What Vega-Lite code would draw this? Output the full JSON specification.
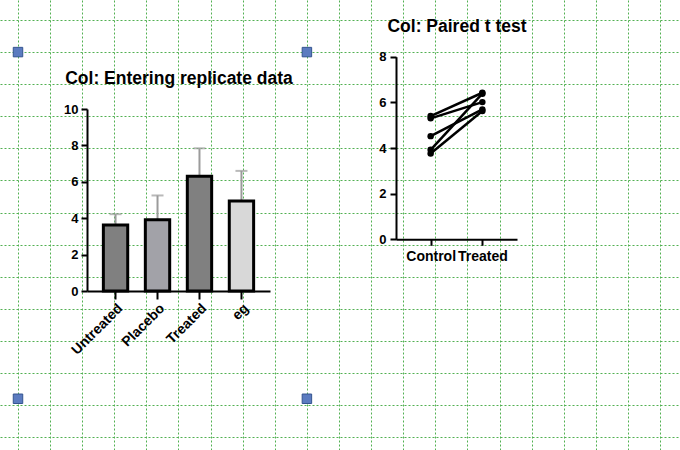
{
  "$schema": "https://vega.github.io/schema/vega-lite/v6.json",
  "width": 680,
  "height": 450,
  "padding": 0,
  "autosize": {"type": "none"},
  "background": "white",
  "config": {
    "view": {"stroke": null},
    "font": "Liberation Sans",
    "axis": {
      "labelFont": "Liberation Sans",
      "titleFont": "Liberation Sans",
      "labelColor": "black",
      "titleColor": "black",
      "domainColor": "black",
      "tickColor": "black",
      "labelFontWeight": "bold",
      "titleFontWeight": "bold"
    }
  },
  "datasets": {
    "handles": [
      {"u": 0, "v": 1},
      {"u": 9, "v": 1},
      {"u": 0, "v": 11.8},
      {"u": 9, "v": 11.8}
    ],
    "groups": [
      {"group": "Untreated", "mean": 3.63, "upper": 4.22},
      {"group": "Placebo", "mean": 3.91, "upper": 5.25},
      {"group": "Treated", "mean": 6.30, "upper": 7.84},
      {"group": "eg", "mean": 4.95, "upper": 6.60}
    ],
    "pairs": [
      {"pair": 1, "condition": "Control", "value": 5.40},
      {"pair": 1, "condition": "Treated", "value": 6.42},
      {"pair": 2, "condition": "Control", "value": 5.30},
      {"pair": 2, "condition": "Treated", "value": 6.01},
      {"pair": 3, "condition": "Control", "value": 4.52},
      {"pair": 3, "condition": "Treated", "value": 5.69},
      {"pair": 4, "condition": "Control", "value": 3.92},
      {"pair": 4, "condition": "Treated", "value": 6.38},
      {"pair": 5, "condition": "Control", "value": 3.76},
      {"pair": 5, "condition": "Treated", "value": 5.62}
    ]
  },
  "layer": [
    {
      "data": {"name": "handles"},
      "mark": {"type": "square", "size": 90, "opacity": 1, "fill": "#5b7bc0", "stroke": "#34548f", "strokeWidth": 1},
      "encoding": {
        "x": {
          "field": "u", "type": "quantitative",
          "scale": {"domain": [-0.5607, 20.623], "nice": false, "zero": false},
          "axis": {
            "orient": "bottom", "values": [0,1,2,3,4,5,6,7,8,9,10,11,12,13,14,15,16,17,18,19,20],
            "grid": true, "gridColor": "#52b052", "gridDash": [2, 2], "gridWidth": 1,
            "domain": false, "ticks": false, "labels": false, "title": null
          }
        },
        "y": {
          "field": "v", "type": "quantitative",
          "scale": {"domain": [-0.623, 13.396], "nice": false, "zero": false, "reverse": true},
          "axis": {
            "orient": "left", "values": [0,1,2,3,4,5,6,7,8,9,10,11,12,13],
            "grid": true, "gridColor": "#52b052", "gridDash": [2, 2], "gridWidth": 1,
            "domain": false, "ticks": false, "labels": false, "title": null
          }
        }
      }
    },
    {
      "data": {"name": "groups"},
      "layer": [
        {
          "mark": {"type": "rule", "color": "#9b9b9b", "strokeWidth": 2},
          "encoding": {
            "x": {
              "field": "group", "type": "nominal", "sort": null,
              "scale": {"range": [87, 270], "paddingInner": 0.42, "paddingOuter": 0.39},
              "axis": {
                "orient": "top", "offset": -87, "title": "Col: Entering replicate data",
                "titleFontSize": 17.5, "titlePadding": 0, "minExtent": 0, "maxExtent": 0,
                "domain": false, "ticks": false, "labels": false, "grid": false
              }
            },
            "y": {
              "field": "mean", "type": "quantitative",
              "scale": {"domain": [0, 10], "range": [291, 109], "nice": false},
              "axis": {
                "orient": "left", "offset": -87, "title": null, "zindex": 1,
                "values": [0, 2, 4, 6, 8, 10], "labelFontSize": 13, "labelPadding": 3,
                "tickSize": 6, "tickWidth": 2, "domainWidth": 2, "grid": false
              }
            },
            "y2": {"field": "upper"}
          }
        },
        {
          "mark": {"type": "tick", "color": "#9b9b9b", "size": 12, "thickness": 2},
          "encoding": {
            "x": {"field": "group", "type": "nominal", "sort": null, "axis": null},
            "y": {"field": "upper", "type": "quantitative", "axis": null}
          }
        },
        {
          "mark": {"type": "bar", "stroke": "black", "strokeWidth": 3},
          "encoding": {
            "x": {
              "field": "group", "type": "nominal", "sort": null,
              "axis": {
                "orient": "bottom", "offset": -159, "title": null, "zindex": 1,
                "labelAngle": -45, "labelFontSize": 14, "labelPadding": 2, "labelOverlap": false,
                "tickSize": 8, "tickWidth": 2, "domainWidth": 2, "grid": false
              }
            },
            "y": {"field": "mean", "type": "quantitative", "axis": null},
            "fill": {
              "field": "group", "type": "nominal", "sort": null, "legend": null,
              "scale": {
                "domain": ["Untreated", "Placebo", "Treated", "eg"],
                "range": ["#808080", "#a2a2a8", "#808080", "#d8d8d8"]
              }
            }
          }
        }
      ],
      "resolve": {"axis": {"x": "independent", "y": "independent"}}
    },
    {
      "data": {"name": "pairs"},
      "layer": [
        {
          "mark": {"type": "line", "color": "black", "strokeWidth": 2.5},
          "encoding": {
            "x": {
              "field": "condition", "type": "ordinal", "sort": ["Control", "Treated"],
              "scale": {"type": "point", "range": [396, 517], "padding": 0.67},
              "axis": {
                "orient": "top", "offset": -35.5, "title": "Col: Paired t test",
                "titleFontSize": 17.5, "titlePadding": 0, "minExtent": 0, "maxExtent": 0,
                "domain": false, "ticks": false, "labels": false, "grid": false
              }
            },
            "y": {
              "field": "value", "type": "quantitative",
              "scale": {"domain": [0, 8], "range": [239.3, 56.7], "nice": false},
              "axis": {
                "orient": "left", "offset": -396, "title": null, "zindex": 1,
                "values": [0, 2, 4, 6, 8], "labelFontSize": 13, "labelPadding": 4,
                "tickSize": 6, "tickWidth": 2, "domainWidth": 2, "grid": false
              }
            },
            "detail": {"field": "pair", "type": "nominal"}
          }
        },
        {
          "mark": {"type": "circle", "color": "black", "size": 42, "opacity": 1},
          "encoding": {
            "x": {
              "field": "condition", "type": "ordinal", "sort": ["Control", "Treated"],
              "axis": {
                "orient": "bottom", "offset": -210.7, "title": null, "zindex": 1,
                "labelAngle": 0, "labelFontSize": 14, "labelPadding": 4,
                "tickSize": 6, "tickWidth": 2, "domainWidth": 2, "grid": false
              }
            },
            "y": {"field": "value", "type": "quantitative", "axis": null}
          }
        }
      ],
      "resolve": {"axis": {"x": "independent", "y": "independent"}}
    }
  ],
  "resolve": {
    "scale": {"x": "independent", "y": "independent", "fill": "independent"},
    "axis": {"x": "independent", "y": "independent"}
  }
}
